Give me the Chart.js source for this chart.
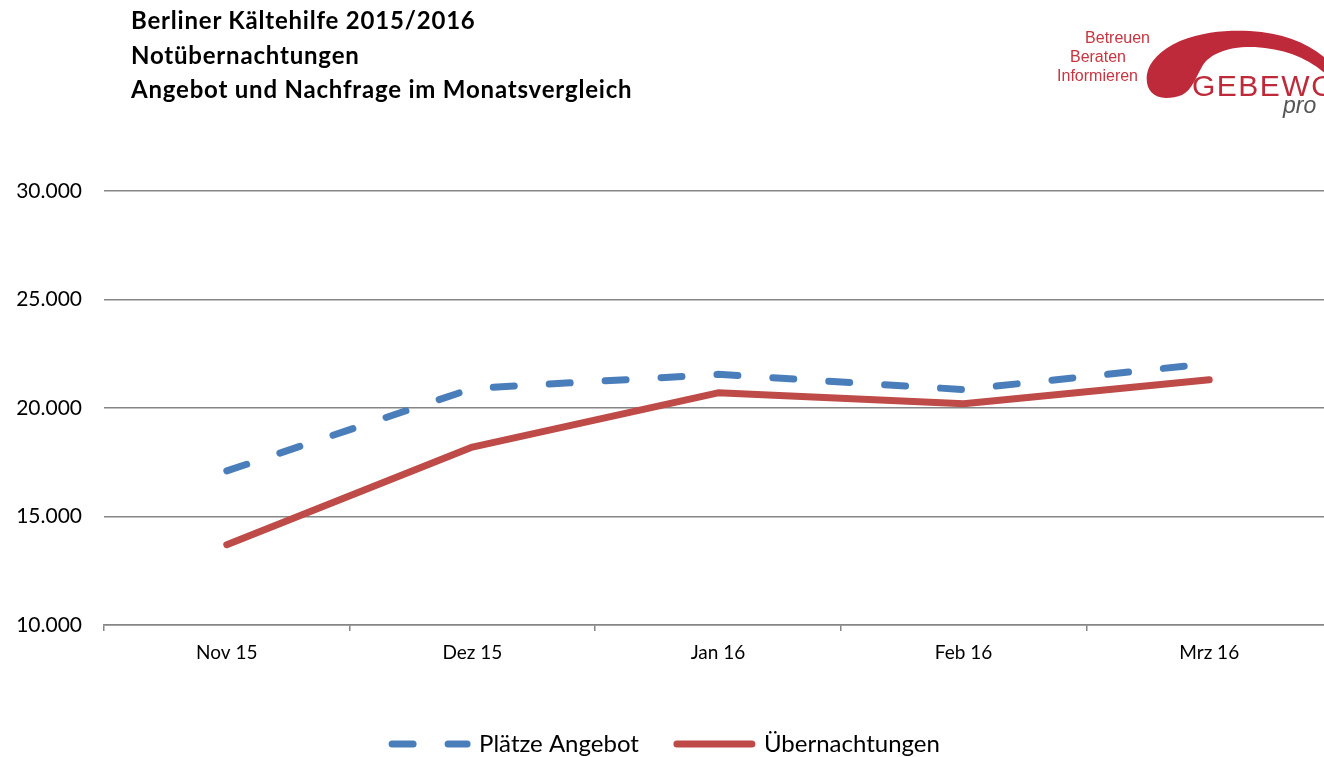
<!DOCTYPE html>
<html>
<head>
<meta charset="utf-8">
<script src="https://cdn.jsdelivr.net/npm/chart.js@4/dist/chart.umd.min.js"></script>
<style>
  html, body { margin: 0; padding: 0; width: 1324px; height: 757px; overflow: hidden; background: #fff; }
  #wrap { position: absolute; left: 0; top: 0; width: 1332px; height: 766px; }
  #title { position: absolute; left: 131px; top: 3px; font-family: Lato, sans-serif; font-weight: bold; font-size: 24px; letter-spacing: 0.8px; line-height: 34.5px; color: #000; }
  #logo { position: absolute; left: 1000px; top: 0; }
</style>
</head>
<body>
<div id="wrap"><canvas id="c" width="1332" height="766"></canvas></div>
<div id="title">Berliner Kältehilfe 2015/2016<br>Notübernachtungen<br>Angebot und Nachfrage im Monatsvergleich</div>
<svg id="logo" width="324" height="130" viewBox="1000 0 324 130">
  <path d="M 1166 98 C 1152 98, 1145 88, 1147 74 C 1149 62, 1160 50, 1180 41 C 1205 31, 1230 30, 1250 31 C 1285 33, 1310 44, 1330 62 L 1330 78 C 1310 58, 1285 49, 1255 47 C 1228 46, 1210 54, 1203 65 C 1196 77, 1192 90, 1182 95 C 1177 97, 1172 98, 1166 98 Z" fill="#BE2A3A"/>
  <text x="1150" y="43" text-anchor="end" font-family="Liberation Sans, Arial, sans-serif" font-size="16" fill="#C8343F">Betreuen</text>
  <text x="1126" y="62" text-anchor="end" font-family="Liberation Sans, Arial, sans-serif" font-size="16" fill="#C8343F">Beraten</text>
  <text x="1138" y="81" text-anchor="end" font-family="Liberation Sans, Arial, sans-serif" font-size="16" fill="#C8343F">Informieren</text>
  <text x="1192" y="96" font-family="Liberation Sans, Arial, sans-serif" font-size="30" letter-spacing="1.5" fill="#BE2A3A">GEBEWO</text>
  <text x="1283" y="113" font-family="Liberation Sans, Arial, sans-serif" font-style="italic" font-size="23" fill="#555555">pro</text>
</svg>
<script>
const categories = ['Nov 15', 'Dez 15', 'Jan 16', 'Feb 16', 'Mrz 16'];
const plaetzeAngebot = [17100, 20900, 21550, 20850, 22050];
const uebernachtungen = [13700, 18200, 20700, 20200, 21300];
const yTicks = [10000, 15000, 20000, 25000, 30000];

function fmt(v) { return String(v).replace(/\B(?=(\d{3})+(?!\d))/g, '.'); }

Chart.defaults.font.family = 'Lato, sans-serif';
Chart.defaults.color = '#000';

new Chart(document.getElementById('c'), {
  type: 'line',
  data: {
    labels: categories,
    datasets: [
      {
        label: 'Plätze Angebot',
        data: plaetzeAngebot,
        borderColor: '#4A7EBB',
        backgroundColor: '#4A7EBB',
        borderWidth: 7,
        borderDash: [21, 35],
        borderCapStyle: 'round',
        borderJoinStyle: 'round',
        pointRadius: 0,
        tension: 0
      },
      {
        label: 'Übernachtungen',
        data: uebernachtungen,
        borderColor: '#BE4B48',
        backgroundColor: '#BE4B48',
        borderWidth: 7,
        borderCapStyle: 'round',
        borderJoinStyle: 'round',
        pointRadius: 0,
        tension: 0
      }
    ]
  },
  options: {
    responsive: false,
    animation: false,
    devicePixelRatio: 1,
    layout: { padding: { top: 191, left: 0, right: 0, bottom: 0 } },
    plugins: {
      title: { display: false },
      tooltip: { enabled: false },
      legend: {
        position: 'bottom',
        labels: {
          usePointStyle: true,
          pointStyle: 'line',
          pointStyleWidth: 75,
          padding: 38,
          color: '#000',
          font: { size: 24 },
          generateLabels: chart => {
            const items = Chart.defaults.plugins.legend.labels.generateLabels(chart);
            items.forEach(it => {
              const ds = chart.data.datasets[it.datasetIndex];
              it.lineDash = ds.borderDash || [];
              it.lineCap = 'round';
              it.lineWidth = 7;
              it.strokeStyle = ds.borderColor;
              it.fillStyle = ds.borderColor;
            });
            return items;
          }
        }
      }
    },
    scales: {
      x: {
        offset: true,
        afterFit: s => { s.height = 69; },
        grid: { offset: true, drawOnChartArea: false, drawTicks: true, tickLength: 6, color: '#868686', lineWidth: 1.5 },
        border: { display: true, color: '#868686', width: 1.5 },
        ticks: { padding: 10, font: { size: 19 }, color: '#000', maxRotation: 0 }
      },
      y: {
        min: 10000,
        max: 30000,
        afterFit: s => { s.width = 104; },
        afterBuildTicks: s => { s.ticks = yTicks.map(v => ({ value: v })); },
        grid: { color: '#868686', lineWidth: 1.5, drawTicks: false },
        border: { display: false },
        ticks: { padding: 22, font: { size: 21 }, color: '#000', callback: v => fmt(v) }
      }
    }
  }
});
</script>
</body>
</html>
